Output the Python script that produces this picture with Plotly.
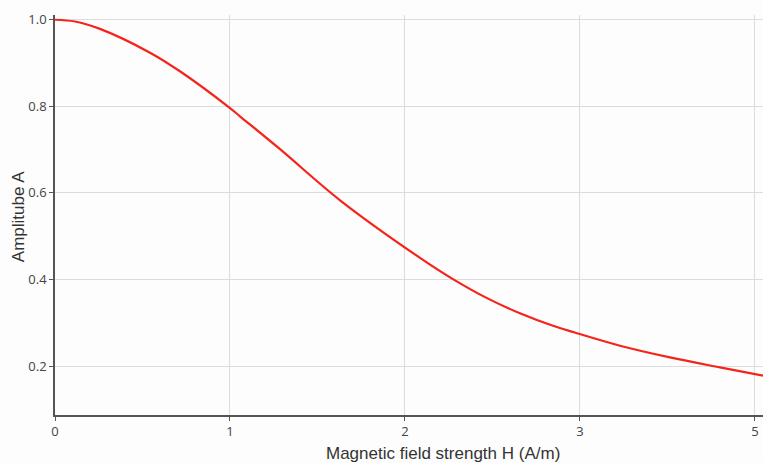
import plotly.graph_objects as go

# Values
field_h = [0.0, 0.114, 0.257, 0.543, 0.714, 1.0, 1.057, 1.286, 1.629, 2.086,
           2.274, 2.469, 2.657, 2.846, 2.966, 3.229, 3.514, 3.8, 4.046]
amplitude = [1.0, 0.996, 0.979, 0.924, 0.881, 0.796, 0.777, 0.701, 0.583, 0.450,
             0.401, 0.357, 0.322, 0.293, 0.278, 0.247, 0.220, 0.197, 0.178]

x_tick_vals = [0, 1, 2, 3, 4]
x_tick_text = ["0", "1", "2", "3", "5"]
y_tick_vals = [0.2, 0.4, 0.6, 0.8, 1.0]
y_tick_text = ["0.2", "0.4", "0.6", "0.8", "1.0"]

fig = go.Figure()
fig.add_trace(go.Scatter(
    x=field_h, y=amplitude, mode="lines",
    line=dict(color="#f5241a", width=2.2, shape="spline", smoothing=1.0),
    showlegend=False, hoverinfo="skip",
))

tick_font = "Open Sans, Noto Sans, sans-serif"
title_font = "Liberation Sans, Arial, sans-serif"
fig.update_layout(
    width=763, height=463,
    margin=dict(l=55, r=0, t=15, b=48),
    paper_bgcolor="#fdfdfd", plot_bgcolor="#fdfdfd",
    font=dict(family=tick_font, size=12, color="#444"),
    xaxis=dict(
        range=[0, 4.046], tickvals=x_tick_vals, ticktext=x_tick_text,
        showgrid=True, gridcolor="#dcdcdc", gridwidth=1,
        showline=True, linecolor="#555", linewidth=1.5,
        ticks="outside", ticklen=4, tickcolor="#555",
        tickfont=dict(size=13, color="#444"), zeroline=False,
    ),
    yaxis=dict(
        range=[0.087, 1.011], tickvals=y_tick_vals, ticktext=y_tick_text,
        showgrid=True, gridcolor="#dcdcdc", gridwidth=1,
        showline=True, linecolor="#555", linewidth=1.5,
        ticks="outside", ticklen=4, tickcolor="#555",
        tickfont=dict(size=13, color="#444"), zeroline=False,
    ),
    annotations=[
        dict(text="Magnetic field strength H (A/m)", xref="paper", yref="paper",
             x=0.548, y=-0.095, xanchor="center", yanchor="middle", showarrow=False,
             font=dict(size=17, color="#333", family=title_font)),
        dict(text="Amplitube A", xref="paper", yref="paper", textangle=-90,
             x=-0.052, y=0.495, xanchor="center", yanchor="middle", showarrow=False,
             font=dict(size=17, color="#333", family=title_font)),
    ],
)

fig.write_html(
    "out.html",
    config={"displayModeBar": False},
    post_script="document.body.style.margin='0';document.body.style.overflow='hidden';",
)
